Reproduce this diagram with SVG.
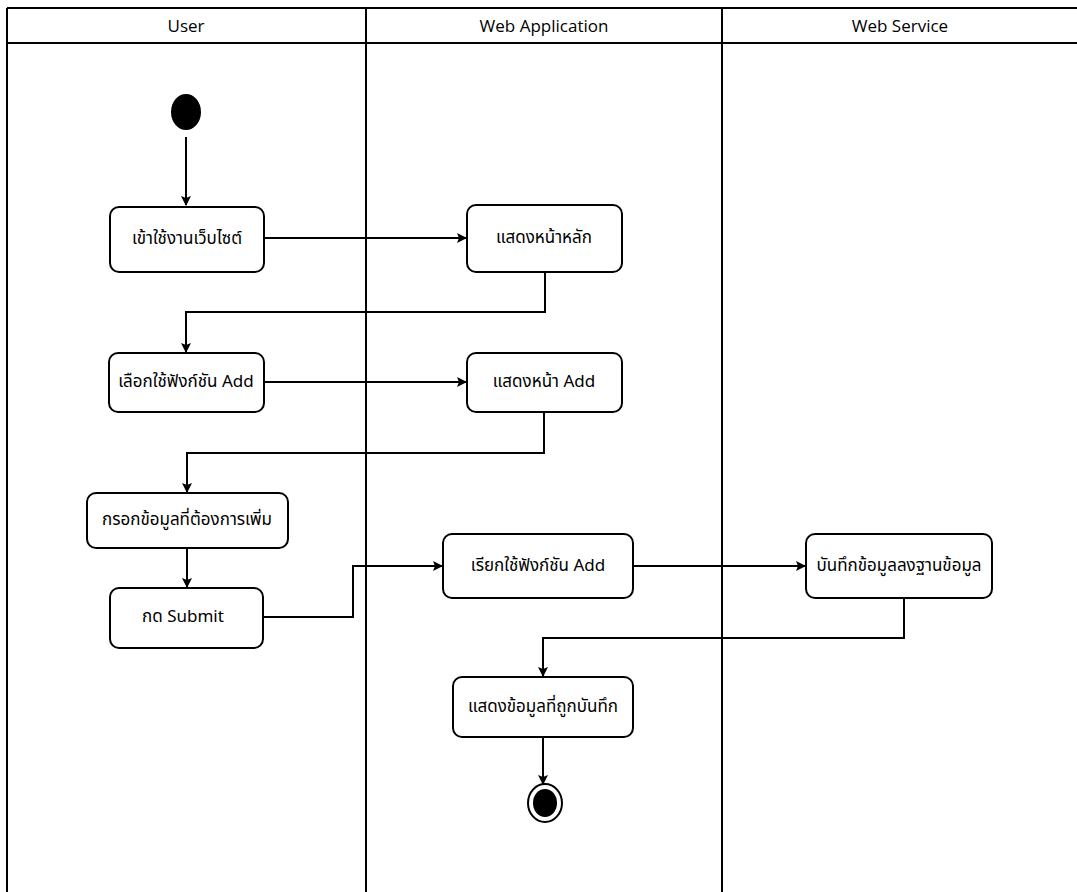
<svg xmlns="http://www.w3.org/2000/svg" width="1077" height="892" viewBox="0 0 1077 892">
<style>
.lane{fill:none;stroke:#000;stroke-width:2}
.hdr{font-family:"Open Sans","Noto Sans","DejaVu Sans",sans-serif;font-size:17px;fill:#000;text-anchor:middle}
.box{fill:#fff;stroke:#000;stroke-width:2}
.lbl{font-family:"Noto Sans Thai","Noto Sans","DejaVu Sans","Loma",sans-serif;font-size:17px;fill:#000;text-anchor:middle;dominant-baseline:central}
.edge{fill:none;stroke:#000;stroke-width:2}
</style>
<defs>
<marker id="arr" markerWidth="10" markerHeight="10" refX="9" refY="5" orient="auto" markerUnits="userSpaceOnUse">
<path d="M0,0 L10,5 L0,10 L2,5 Z" fill="#000"/>
</marker>
</defs>
<rect width="1077" height="892" fill="#fff"/>
<g id="swimlanes">
<line class="lane" x1="7" y1="8" x2="1077" y2="8"/>
<line class="lane" x1="7" y1="43" x2="1077" y2="43"/>
<line class="lane" x1="7" y1="8" x2="7" y2="892"/>
<line class="lane" x1="366" y1="8" x2="366" y2="892"/>
<line class="lane" x1="722" y1="8" x2="722" y2="892"/>
<text class="hdr" x="186" y="32">User</text>
<text class="hdr" x="544" y="32">Web Application</text>
<text class="hdr" x="900" y="32">Web Service</text>
</g>
<g id="connectors">
<path class="edge" d="M186,137 V205" marker-end="url(#arr)"/>
<path class="edge" d="M264,238 H466" marker-end="url(#arr)"/>
<path class="edge" d="M545,272 V312 H186 V352" marker-end="url(#arr)"/>
<path class="edge" d="M264,382 H466" marker-end="url(#arr)"/>
<path class="edge" d="M544,412 V453 H187 V492" marker-end="url(#arr)"/>
<path class="edge" d="M187,548 V587" marker-end="url(#arr)"/>
<path class="edge" d="M264,617 H353 V566 H442" marker-end="url(#arr)"/>
<path class="edge" d="M633,566 H805" marker-end="url(#arr)"/>
<path class="edge" d="M904,598 V638 H543 V676" marker-end="url(#arr)"/>
<path class="edge" d="M543,737 V784" marker-end="url(#arr)"/>
</g>
<g id="start"><ellipse cx="186" cy="112" rx="15" ry="18" fill="#000"/></g>
<g id="n1"><rect class="box" x="110" y="207" width="154" height="65" rx="9"/><text class="lbl" x="187" y="239">เข้าใช้งานเว็บไซต์</text></g>
<g id="n2"><rect class="box" x="467" y="205" width="155" height="67" rx="9"/><text class="lbl" x="544" y="238">แสดงหน้าหลัก</text></g>
<g id="n3"><rect class="box" x="109" y="353" width="155" height="59" rx="9"/><text class="lbl" x="186" y="382">เลือกใช้ฟังก์ชัน Add</text></g>
<g id="n4"><rect class="box" x="467" y="353" width="155" height="59" rx="9"/><text class="lbl" x="544" y="382">แสดงหน้า Add</text></g>
<g id="n5"><rect class="box" x="87" y="493" width="201" height="55" rx="9"/><text class="lbl" x="187" y="520">กรอกข้อมูลที่ต้องการเพิ่ม</text></g>
<g id="n6"><rect class="box" x="110" y="588" width="153" height="60" rx="9"/><text class="lbl" x="183" y="617">กด Submit</text></g>
<g id="n7"><rect class="box" x="443" y="534" width="190" height="64" rx="9"/><text class="lbl" x="538" y="566">เรียกใช้ฟังก์ชัน Add</text></g>
<g id="n8"><rect class="box" x="806" y="534" width="186" height="64" rx="9"/><text class="lbl" x="899" y="566">บันทึกข้อมูลลงฐานข้อมูล</text></g>
<g id="n9"><rect class="box" x="453" y="677" width="180" height="60" rx="9"/><text class="lbl" x="543" y="707">แสดงข้อมูลที่ถูกบันทึก</text></g>
<g id="end"><ellipse cx="545" cy="803" rx="17" ry="19" fill="#fff" stroke="#000" stroke-width="2"/><ellipse cx="545" cy="803" rx="12" ry="14" fill="#000"/></g>
</svg>
